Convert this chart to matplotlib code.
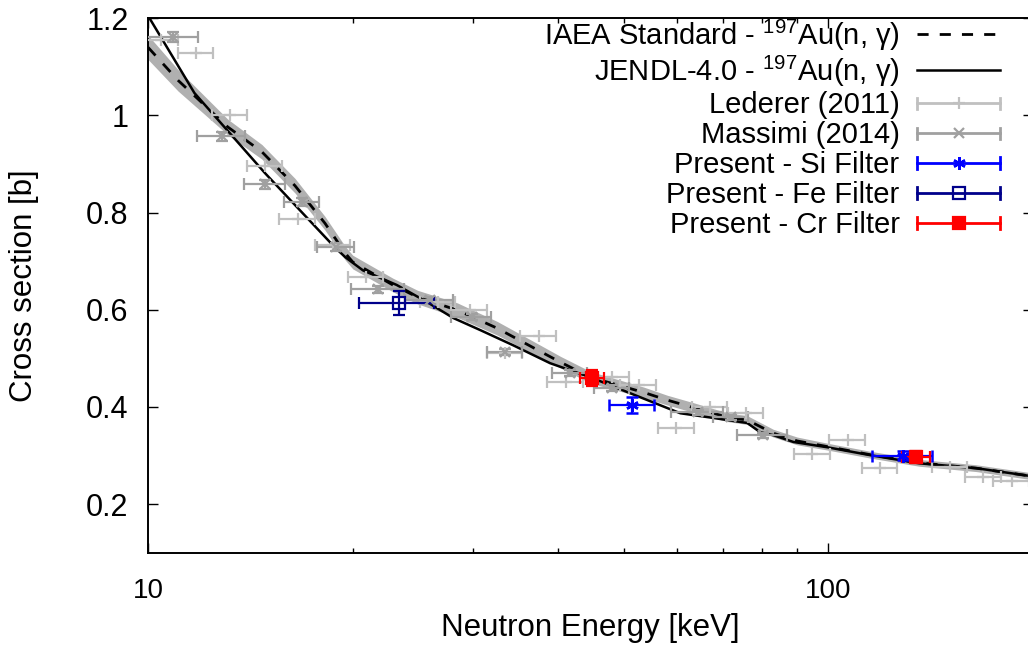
"""Au-197(n,gamma) capture cross section: filtered-beam results vs evaluations."""

import matplotlib

matplotlib.use("Agg")
import matplotlib.pyplot as plt
from matplotlib.container import ErrorbarContainer
from matplotlib.legend_handler import HandlerBase
from matplotlib.lines import Line2D
from matplotlib.ticker import FixedLocator, LogLocator, NullFormatter

# evaluations (energy in keV, cross section in b)
iaea_energy = [10.0, 11.07, 13.1, 14.7, 16.45, 18.2, 19.5, 20.0, 22.9, 24.9, 28.5, 32.6,
               37.4, 40.4, 44.7, 53.5, 58.0, 63.6, 71.0, 76.0, 83.0, 90.0, 100.0, 115.0,
               136.0, 165.0, 200.0]
iaea_xs = [1.140, 1.072, 0.976, 0.925, 0.855, 0.778, 0.716, 0.698, 0.651, 0.626, 0.599, 0.562,
           0.517, 0.492, 0.461, 0.430, 0.414, 0.398, 0.379, 0.373, 0.346, 0.330, 0.318, 0.302,
           0.285, 0.274, 0.257]
iaea_unc = [0.025, 0.022, 0.016, 0.015, 0.015, 0.014, 0.014, 0.014, 0.014, 0.014, 0.015, 0.014,
            0.013, 0.012, 0.012, 0.011, 0.010, 0.010, 0.009, 0.009, 0.008, 0.008, 0.007, 0.007,
            0.007, 0.007, 0.007]

jendl_energy = [10.0, 11.7, 14.86, 18.8, 19.5, 20.7, 23.2, 25.7, 28.1, 30.8, 34.4, 39.0, 44.7,
                52.9, 60.6, 66.5, 76.0, 79.4, 83.0, 88.8, 99.7, 115.0, 136.0, 165.0, 200.0]
jendl_xs = [1.205, 1.046, 0.881, 0.729, 0.708, 0.681, 0.651, 0.616, 0.583, 0.558, 0.527, 0.490,
            0.461, 0.420, 0.387, 0.379, 0.367, 0.348, 0.342, 0.328, 0.317, 0.301, 0.284, 0.274,
            0.257]

# previous measurements
lederer_energy = [10.45, 11.77, 13.2, 14.86, 16.6, 18.7, 20.9, 26.7, 29.7, 33.5, 37.5, 41.1,
                  48.1, 52.6, 59.8, 67.0, 75.6, 94.7, 106.7, 119.0, 151.0, 169.0, 186.0]
lederer_xs = [1.155, 1.128, 1.000, 0.895, 0.786, 0.733, 0.667, 0.616, 0.599, 0.511, 0.546, 0.451,
              0.461, 0.445, 0.356, 0.400, 0.387, 0.303, 0.332, 0.274, 0.276, 0.256, 0.247]
lederer_de = [0.63, 0.71, 0.79, 0.89, 1.0, 1.1, 1.25, 1.6, 1.8, 2.0, 2.25, 2.5,
              2.9, 3.2, 3.6, 4.0, 4.5, 5.7, 6.4, 7.1, 9.1, 10.1, 11.2]

massimi_energy = [10.88, 12.85, 14.86, 16.84, 18.9, 21.8, 26.0, 29.9, 33.5, 41.7, 48.1, 64.3,
                  72.0, 80.2]
massimi_xs = [1.161, 0.957, 0.858, 0.821, 0.729, 0.642, 0.620, 0.585, 0.513, 0.470, 0.439, 0.389,
              0.379, 0.342]
massimi_de = [0.95, 1.03, 1.04, 1.0, 1.16, 1.95, 2.1, 2.0, 2.0, 2.5, 2.9, 5.6, 4.3, 6.8]
massimi_dxs = [0.010, 0.009, 0.009, 0.008, 0.008, 0.007, 0.007, 0.007, 0.006, 0.006, 0.006,
               0.005, 0.005, 0.005]

# present work
si_energy = [51.5, 128.8]
si_xs = [0.404, 0.300]
si_de = [3.85, 13.0]
si_dxs = [0.017, 0.010]

fe_energy = [23.4]
fe_xs = [0.614]
fe_de = [2.95]
fe_dxs = [0.024]

cr_energy = [45.0, 134.6]
cr_xs = [0.459, 0.297]
cr_de = [1.8, 6.5]
cr_dxs = [0.016, 0.012]

y_ticks = [0.2, 0.4, 0.6, 0.8, 1.0, 1.2]
y_tick_labels = ["0.2", "0.4", "0.6", "0.8", "1", "1.2"]
x_ticks = [10, 100]
x_tick_labels = ["10", "100"]


class BarKeyHandler(HandlerBase):
    """gnuplot-like key sample: horizontal bar with end caps and a centred marker."""

    def create_artists(self, legend, orig_handle, xdescent, ydescent, width, height,
                       fontsize, trans):
        data_line = orig_handle.lines[0]
        color = data_line.get_markeredgecolor()
        y = height / 2 - ydescent
        x0, x1 = -xdescent, width - xdescent
        cap = 0.22 * height
        bar = Line2D([x0, x1], [y, y], color=color, lw=2)
        left = Line2D([x0, x0], [y - cap, y + cap], color=color, lw=2)
        right = Line2D([x1, x1], [y - cap, y + cap], color=color, lw=2)
        mark = Line2D([(x0 + x1) / 2], [y], ls="none", marker=data_line.get_marker(),
                      ms=data_line.get_markersize(), mfc=data_line.get_markerfacecolor(),
                      mec=color, mew=data_line.get_markeredgewidth())
        artists = [bar, left, right, mark]
        for a in artists:
            a.set_transform(trans)
        return artists


plt.rcParams["font.family"] = ["Liberation Sans", "DejaVu Sans"]
plt.rcParams["mathtext.fontset"] = "custom"
plt.rcParams["mathtext.rm"] = "Liberation Sans"
plt.rcParams["mathtext.default"] = "regular"

fig = plt.figure(figsize=(10.28, 6.48), dpi=100)
ax = fig.add_axes([0.144, 0.147, 0.861, 0.825])

ax.fill_between(iaea_energy, [v - u for v, u in zip(iaea_xs, iaea_unc)],
                [v + u for v, u in zip(iaea_xs, iaea_unc)], color="#b0b0b0", lw=0, zorder=1)
ax.plot(iaea_energy, iaea_xs, color="black", lw=2, ls=(0, (4, 4)), zorder=2,
        label=r"IAEA Standard - $^{197}$Au(n, γ)")
ax.plot(jendl_energy, jendl_xs, color="black", lw=1.8, zorder=2,
        label=r"JENDL-4.0 - $^{197}$Au(n, γ)")

bar_style = dict(ls="none", elinewidth=1.6, capsize=4, capthick=1.6, zorder=3)
ax.errorbar(lederer_energy, lederer_xs, xerr=lederer_de, color="#c0c0c0", marker="+", ms=8,
            mew=1.6, label="Lederer (2011)", **bar_style)
ax.errorbar(massimi_energy, massimi_xs, xerr=massimi_de, yerr=massimi_dxs, color="#a0a0a0",
            marker="x", ms=7, mew=1.6, label="Massimi (2014)", **bar_style)
ax.errorbar(si_energy, si_xs, xerr=si_de, yerr=si_dxs, color="#0000ff", marker=(6, 2, 0),
            ms=9, mew=1.8, label="Present - Si Filter", **bar_style)
ax.errorbar(fe_energy, fe_xs, xerr=fe_de, yerr=fe_dxs, color="#00008b", marker="s", ms=8,
            mfc="none", mew=1.6, label="Present - Fe Filter", **bar_style)
ax.errorbar(cr_energy, cr_xs, xerr=cr_de, yerr=cr_dxs, color="#ff0000", marker="s", ms=8.5,
            mew=1.6, label="Present - Cr Filter", **bar_style)

ax.set_xscale("log")
ax.set_xlim(10, 200)
ax.set_ylim(0.1, 1.2)
ax.xaxis.set_major_locator(FixedLocator(x_ticks))
ax.set_xticklabels(x_tick_labels)
ax.xaxis.set_minor_locator(LogLocator(base=10, subs=range(2, 10)))
ax.xaxis.set_minor_formatter(NullFormatter())
ax.set_yticks(y_ticks)
ax.set_yticklabels(y_tick_labels)
ax.tick_params(which="both", direction="in", top=True, right=True, width=1.0, colors="black")
ax.tick_params(which="major", length=7)
ax.tick_params(which="minor", length=3.5)
ax.tick_params(axis="x", labelsize=20, pad=18)
ax.tick_params(axis="y", labelsize=22, pad=14)
for side in ("left", "bottom", "top"):
    ax.spines[side].set_linewidth(1.4)
ax.spines["right"].set_visible(False)

ax.set_xlabel("Neutron Energy [keV]", fontsize=22.5)
ax.set_ylabel("Cross section [b]", fontsize=22.5)
ax.xaxis.set_label_coords(0.5, -0.112)
ax.yaxis.set_label_coords(-0.123, 0.5)

handles, labels = ax.get_legend_handles_labels()
leg = ax.legend(handles, labels, loc="upper right", bbox_to_anchor=(0.973, 0.972),
                bbox_transform=fig.transFigure, frameon=False, markerfirst=False,
                fontsize=21, handlelength=2.85, handletextpad=0.6, handleheight=1.0,
                labelspacing=0.03, borderpad=0, borderaxespad=0,
                handler_map={ErrorbarContainer: BarKeyHandler()})

fig.savefig("out.png", dpi=100)
